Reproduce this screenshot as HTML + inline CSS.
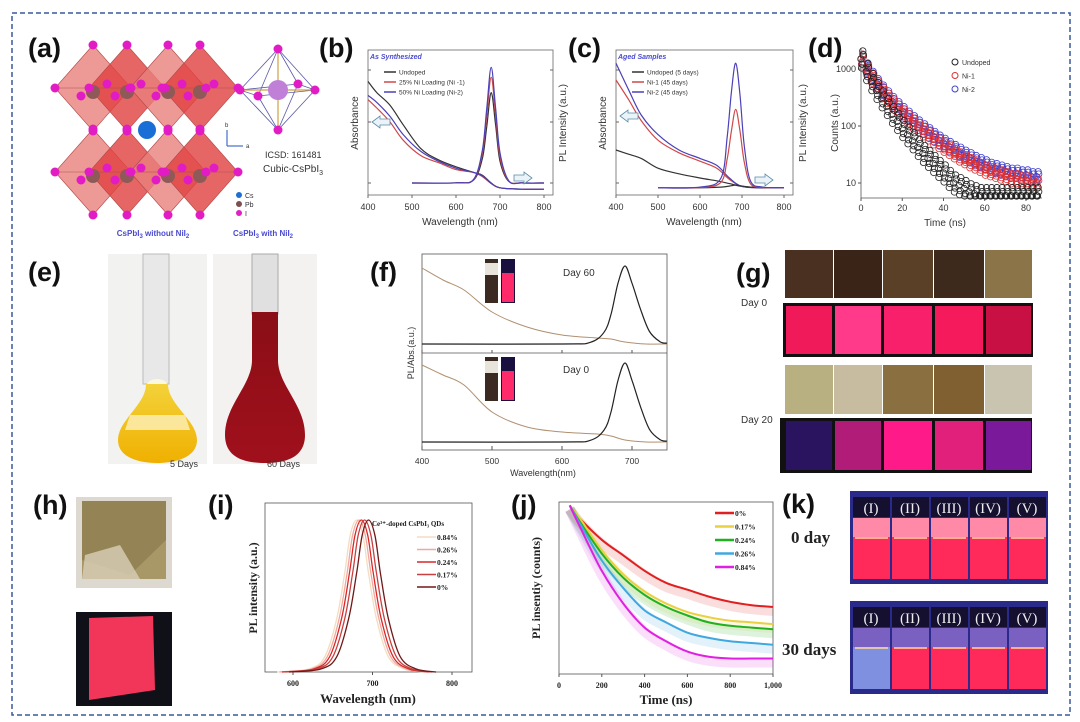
<!DOCTYPE html>
<html><head><meta charset="utf-8">
<style>
html,body{margin:0;padding:0;background:#fff;}
svg{display:block;}
.lbl{font-family:"Liberation Sans",sans-serif;font-weight:bold;font-size:27px;fill:#111;}
.t{font-family:"Liberation Sans",sans-serif;fill:#333;}
.s{font-family:"Liberation Serif",serif;font-weight:bold;fill:#222;}
</style></head>
<body>
<svg id="fig" width="1080" height="722" viewBox="0 0 1080 722" xmlns="http://www.w3.org/2000/svg">
<defs>
<linearGradient id="gy" x1="0" y1="0" x2="0" y2="1"><stop offset="0" stop-color="#f3d23a"/><stop offset="1" stop-color="#f0b000"/></linearGradient>
<linearGradient id="gr" x1="0" y1="0" x2="0" y2="1"><stop offset="0" stop-color="#8a0e16"/><stop offset="1" stop-color="#a0101c"/></linearGradient>
</defs>
<rect x="0" y="0" width="1080" height="722" fill="#fff"/>
<rect x="12" y="13" width="1058" height="702" fill="none" stroke="#3a5a9a" stroke-width="1.5" stroke-dasharray="5,3"/>

<text class="lbl" x="28" y="57">(a)</text>
<text class="lbl" x="319" y="57">(b)</text>
<text class="lbl" x="568" y="57">(c)</text>
<text class="lbl" x="808" y="57">(d)</text>
<text class="lbl" x="28" y="281">(e)</text>
<text class="lbl" x="370" y="281">(f)</text>
<text class="lbl" x="736" y="282">(g)</text>
<text class="lbl" x="33" y="514">(h)</text>
<text class="lbl" x="208" y="514">(i)</text>
<text class="lbl" x="511" y="514">(j)</text>
<text class="lbl" x="782" y="513">(k)</text>

<g id="crystal"></g>
<text class="t" x="265" y="158" font-size="9">ICSD: 161481</text>
<text class="t" x="263" y="172" font-size="10">Cubic-CsPbI<tspan font-size="7" dy="3">3</tspan></text>
<g>
<line x1="227" y1="146" x2="227" y2="130" stroke="#2050c0" stroke-width="1"/><line x1="227" y1="146" x2="243" y2="146" stroke="#2050c0" stroke-width="1"/>
<text class="t" x="225" y="127" font-size="6">b</text><text class="t" x="246" y="148" font-size="6">a</text></g>
<g>
<circle cx="239" cy="195" r="3" fill="#1e6fd0"/><text class="t" x="245" y="198" font-size="7">Cs</text>
<circle cx="239" cy="204" r="3" fill="#7a5050"/><text class="t" x="245" y="207" font-size="7">Pb</text>
<circle cx="239" cy="213" r="3" fill="#e020c0"/><text class="t" x="245" y="216" font-size="7">I</text></g>

<g id="pb"></g>
<g id="pc"></g>
<g id="pd"></g>

<g>
<text x="153" y="236" font-size="8" text-anchor="middle" font-weight="bold" fill="#4a4ad0" font-family="Liberation Sans,sans-serif">CsPbI<tspan font-size="6" dy="2">3</tspan><tspan dy="-2"> without NiI</tspan><tspan font-size="6" dy="2">2</tspan></text>
<text x="263" y="236" font-size="8" text-anchor="middle" font-weight="bold" fill="#4a4ad0" font-family="Liberation Sans,sans-serif">CsPbI<tspan font-size="6" dy="2">3</tspan><tspan dy="-2"> with NiI</tspan><tspan font-size="6" dy="2">2</tspan></text>
<rect x="108" y="254" width="99" height="210" fill="#f2f2f0"/>
<rect x="143" y="254" width="26" height="130" fill="#e8e8e8" stroke="#bbb"/>
<ellipse cx="157" cy="385" rx="10" ry="6" fill="#fbf8e0"/>
<path d="M146,384 C146,405 118,420 118,440 C118,458 140,463 157,463 C174,463 197,458 197,440 C197,420 168,405 168,384 Z" fill="url(#gy)"/>
<path d="M130,415 L185,415 L190,430 L125,430 Z" fill="#fff6d0" opacity="0.7"/>
<rect x="213" y="254" width="104" height="210" fill="#f4f2f0"/>
<rect x="252" y="254" width="26" height="60" fill="#e0e0e0" stroke="#aaa"/>
<path d="M252,312 L278,312 L278,360 C278,385 305,405 305,435 C305,458 285,463 265,463 C245,463 225,458 225,435 C225,405 252,385 252,360 Z" fill="url(#gr)"/>
<text class="t" x="170" y="467" font-size="9">5 Days</text>
<text class="t" x="267" y="467" font-size="9">60 Days</text>
</g>

<g id="pf"></g>

<g id="pg"></g>
<text class="t" x="741" y="306" font-size="10">Day 0</text>
<text class="t" x="741" y="423" font-size="10">Day 20</text>

<g>
<rect x="76" y="497" width="96" height="91" fill="#ddd8d0"/>
<rect x="82" y="501" width="84" height="78" fill="#a89868"/>
<path d="M82,501 L166,501 L166,540 L130,575 L82,560 Z" fill="#8c7a4c" opacity="0.7"/>
<path d="M85,555 L120,545 L140,579 L82,579 Z" fill="#d8d0b8" opacity="0.8"/>
<rect x="76" y="612" width="96" height="94" fill="#101018"/>
<path d="M89,618 L153,616 L155,690 L89,700 Z" fill="#f2365a"/>
</g>

<g id="pi"></g>
<g id="pj"></g>

<g>
<text class="s" x="791" y="543" font-size="17">0 day</text>
<text class="s" x="782" y="655" font-size="17">30 days</text>
<g id="pk"></g>
</g>
</svg>

<script>
const NS='http://www.w3.org/2000/svg';
function el(tag,attrs,parent,text){const e=document.createElementNS(NS,tag);for(const k in attrs)e.setAttribute(k,attrs[k]);if(text!==undefined)e.textContent=text;parent.appendChild(e);return e;}
function smooth(p){if(p.length<2)return '';let d='M'+p[0][0].toFixed(1)+','+p[0][1].toFixed(1);for(let i=0;i<p.length-1;i++){const p0=p[i-1]||p[i],p1=p[i],p2=p[i+1],p3=p[i+2]||p2;const c1=[p1[0]+(p2[0]-p0[0])/6,p1[1]+(p2[1]-p0[1])/6],c2=[p2[0]-(p3[0]-p1[0])/6,p2[1]-(p3[1]-p1[1])/6];d+='C'+c1[0].toFixed(1)+','+c1[1].toFixed(1)+' '+c2[0].toFixed(1)+','+c2[1].toFixed(1)+' '+p2[0].toFixed(1)+','+p2[1].toFixed(1);}return d;}

/* ---------- (a) crystal ---------- */
const octX=[93,127,168,200];
const octRowsY=[88,172];
(function(){const g=document.getElementById('crystal');
octRowsY.forEach((cy,r)=>{octX.forEach((cx,i)=>{
 const poly=el('polygon',{points:`${cx},${cy-43} ${cx+38},${cy} ${cx},${cy+43} ${cx-38},${cy}`,fill:i%2?'#e0403f':'#e8807c','fill-opacity':'0.8',stroke:'#b04848','stroke-width':'0.6'},g);
 
 
 el('line',{x1:cx-38,y1:cy,x2:cx+38,y2:cy,stroke:'#b05050','stroke-width':'0.5'},g);
});});
octRowsY.forEach(cy=>{octX.forEach(cx=>{el('circle',{cx:cx,cy:cy+4,r:7,fill:'#8e5a58'},g);});});
octRowsY.forEach(cy=>{octX.forEach(cx=>{[[cx,cy-43],[cx,cy+43],[cx-38,cy],[cx+38,cy],[cx-12,cy+8],[cx+14,cy-4]].forEach(p=>el('circle',{cx:p[0],cy:p[1],r:4.5,fill:'#e21cc4'},g));});});
const cs=el('circle',{cx:147,cy:130,r:9,fill:'#1a6fd6'},g);


const ni=[[278,49],[278,130],[240,90],[315,90],[258,96],[298,84]];
[[0,2],[0,3],[0,4],[0,5],[1,2],[1,3],[1,4],[1,5],[2,4],[4,3],[3,5],[5,2]].forEach(e=>el('line',{x1:ni[e[0]][0],y1:ni[e[0]][1],x2:ni[e[1]][0],y2:ni[e[1]][1],stroke:'#5a5aa8','stroke-width':'0.8'},g));
el('line',{x1:278,y1:49,x2:278,y2:130,stroke:'#d0a040','stroke-width':'1.2'},g);
el('line',{x1:240,y1:90,x2:315,y2:90,stroke:'#d0a040','stroke-width':'1.2'},g);
el('circle',{cx:278,cy:90,r:10,fill:'#c080d8'},g);
ni.forEach(p=>el('circle',{cx:p[0],cy:p[1],r:4.5,fill:'#e21cc4'},g));
})();

/* ---------- (b) ---------- */
const bAbsWl=[400,420,450,480,520,560,600,640,660,680,700,750,800];
const bAbsUndoped=[0.79,0.71,0.62,0.48,0.31,0.23,0.18,0.14,0.12,0.064,0.03,0.02,0.02];
const bAbsNi1=[0.66,0.60,0.50,0.37,0.26,0.21,0.16,0.14,0.11,0.06,0.03,0.02,0.02];
const bAbsNi2=[0.69,0.64,0.54,0.41,0.29,0.22,0.17,0.14,0.115,0.062,0.03,0.02,0.02];
const bPlWl=[500,600,640,660,670,680,690,700,720,750,800];
const bPlUndoped=[0.064,0.066,0.085,0.24,0.47,0.71,0.48,0.22,0.075,0.065,0.064];
const bPlNi1=[0.064,0.066,0.088,0.28,0.55,0.82,0.55,0.25,0.078,0.065,0.064];
const bPlNi2=[0.064,0.066,0.09,0.30,0.60,0.89,0.60,0.28,0.08,0.065,0.064];
const bTicks=[400,500,600,700,800];
/* ---------- (c) ---------- */
const cAbsWl=[400,430,460,500,550,600,640,670,700,750,800];
const cAbsUndoped=[0.30,0.27,0.24,0.17,0.13,0.10,0.08,0.06,0.04,0.03,0.03];
const cAbsNi1=[0.80,0.66,0.51,0.37,0.28,0.22,0.17,0.09,0.04,0.03,0.03];
const cAbsNi2=[0.92,0.73,0.55,0.41,0.30,0.24,0.19,0.10,0.04,0.03,0.03];
const cPlWl=[500,600,650,665,675,685,695,705,720,750,800];
const cPlUndoped=[0.03,0.03,0.035,0.04,0.045,0.05,0.045,0.04,0.035,0.03,0.03];
const cPlNi1=[0.03,0.032,0.07,0.24,0.44,0.59,0.44,0.22,0.06,0.032,0.03];
const cPlNi2=[0.03,0.035,0.10,0.40,0.72,0.92,0.70,0.34,0.08,0.035,0.03];

function specPanel(gid,x0,x1,absWl,abs,plWl,pl,legend,title,names){
 const g=document.getElementById(gid);
 const X=w=>x0+(w-400)*(x1-x0)/400, Y=v=>192-v*140;
 const ax=el('rect',{x:x0,y:50,width:(x1-x0)+9,height:145,fill:'none',stroke:'#666','stroke-width':'0.8'},g);
 
 
 bTicks.forEach(t=>{el('line',{x1:X(t),y1:195,x2:X(t),y2:198,stroke:'#666'},g);
  const tl=el('text',{x:X(t),y:210,'font-size':9,'text-anchor':'middle',class:'t'},g,String(t));
  
  });
 [70,122,183].forEach(y=>{el('line',{x1:x0,y1:y,x2:x0+3,y2:y,stroke:'#666'},g);el('line',{x1:x1+9,y1:y,x2:x1+6,y2:y,stroke:'#666'},g);});
 const xt=el('text',{x:(x0+x1)/2+4,y:225,'font-size':10,'text-anchor':'middle',class:'t'},g,'Wavelength (nm)');
 
 
 const yt=el('text',{x:0,y:0,'font-size':10,'text-anchor':'middle',class:'t',transform:`translate(${x0-10},123) rotate(-90)`},g,'Absorbance');
 
 
 const yt2=el('text',{x:0,y:0,'font-size':10,'text-anchor':'middle',class:'t',transform:`translate(${x1+22},123) rotate(-90)`},g,'PL Intensity (a.u.)');
 
 
 const tt=el('text',{x:x0+2,y:59,'font-size':7,'font-style':'italic','font-weight':'bold',fill:'#4a4ad0','font-family':'Liberation Sans,sans-serif'},g,title);
 
 
 const cols=['#333','#d04848','#4a40b8'];
 abs.forEach((s,k)=>{const p=el('path',{d:smooth(absWl.map((w,i)=>[X(w),Y(s[i])])),fill:'none',stroke:cols[k],'stroke-width':1.2},g);
  
  });
 pl.forEach((s,k)=>{const p=el('path',{d:smooth(plWl.map((w,i)=>[X(w),Y(s[i])])),fill:'none',stroke:cols[k],'stroke-width':1.2},g);
  
  });
 legend.forEach((t,k)=>{const y=72+k*10;el('line',{x1:x0+16,y1:y,x2:x0+28,y2:y,stroke:cols[k],'stroke-width':1.5},g);
  const lt=el('text',{x:x0+31,y:y+2.5,'font-size':6.5,class:'t'},g,t);
  
  });
 return {g,X,Y};
}
(function(){
 const b=specPanel('pb',368,544,bAbsWl,[bAbsUndoped,bAbsNi1,bAbsNi2],bPlWl,[bPlUndoped,bPlNi1,bPlNi2],['Undoped','25% Ni Loading (Ni -1)','50% Ni Loading (Ni-2)'],'As Synthesized',['undoped','ni1','ni2']);
 el('path',{d:'M372,122 l8,-6 v3 h10 v6 h-10 v3 z',fill:'#eaf4f8',stroke:'#5a8aa8','stroke-width':0.8},b.g);
 el('path',{d:'M514,175 h10 v-3 l8,6 -8,6 v-3 h-10 z',fill:'#eaf4f8',stroke:'#5a8aa8','stroke-width':0.8},b.g);
 const c=specPanel('pc',616,784,cAbsWl,[cAbsUndoped,cAbsNi1,cAbsNi2],cPlWl,[cPlUndoped,cPlNi1,cPlNi2],['Undoped (5 days)','Ni-1 (45 days)','Ni-2 (45 days)'],'Aged Samples',['undoped','ni1','ni2']);
 el('path',{d:'M620,116 l8,-6 v3 h10 v6 h-10 v3 z',fill:'#eaf4f8',stroke:'#5a8aa8','stroke-width':0.8},c.g);
 el('path',{d:'M755,177 h10 v-3 l8,6 -8,6 v-3 h-10 z',fill:'#eaf4f8',stroke:'#5a8aa8','stroke-width':0.8},c.g);
})();

/* ---------- (d) ---------- */
const dTime=[0,2.5,5,7.5,10,12.5,15,17.5,20,22.5,25,27.5,30,32.5,35,37.5,40,42.5,45,47.5,50,52.5,55,57.5,60,62.5,65,67.5,70,72.5,75,77.5,80,82.5,85];
const dUndoped=[1500,900,600,420,300,220,160,120,90,70,55,42,33,27,22,18,15,12,10,9,8,7,6.5,6,6,6,6,6,6,6,6,6,6,6,6];
const dNi1=[1500,1000,700,520,400,310,250,200,165,135,112,95,80,68,58,50,43,38,33,29,26,23,21,19,17,16,15,14,13,12,12,11,11,10,10];
const dNi2=[1500,1050,750,560,430,340,270,220,180,150,125,105,90,77,66,57,50,44,39,35,31,28,25,23,21,19,18,17,16,15,15,14,14,13,13];
const dXTicks=[0,20,40,60,80];
const dYTicks=[10,100,1000];
(function(){const g=document.getElementById('pd');
 const X=t=>861+t*(1026-861)/80, Y=c=>183-(Math.log10(c)-1)*57;
 el('line',{x1:861,y1:48,x2:861,y2:198,stroke:'#555','stroke-width':0.8},g);
 el('line',{x1:861,y1:198,x2:1042,y2:198,stroke:'#555','stroke-width':0.8},g);
 dXTicks.forEach(t=>{el('line',{x1:X(t),y1:198,x2:X(t),y2:201,stroke:'#555'},g);
  const l=el('text',{x:X(t),y:211,'font-size':9,'text-anchor':'middle',class:'t'},g,String(t));
  
  });
 dYTicks.forEach(v=>{el('line',{x1:858,y1:Y(v),x2:861,y2:Y(v),stroke:'#555'},g);
  const l=el('text',{x:856,y:Y(v)+3,'font-size':9,'text-anchor':'end',class:'t'},g,String(v));
  
  });
 const xt=el('text',{x:945,y:226,'font-size':10,'text-anchor':'middle',class:'t'},g,'Time (ns)');
 
 
 const yt=el('text',{x:0,y:0,'font-size':10,'text-anchor':'middle',class:'t',transform:'translate(838,123) rotate(-90)'},g,'Counts (a.u.)');
 
 
 const cols=['#222','#e03030','#4040d0'];
 const spread=[[0,0],[1.2,5],[2.4,-4],[0.6,9],[1.8,-8]];
 [dNi2,dNi1,dUndoped].forEach((s,kk)=>{const k=2-kk;s.forEach((v,i)=>{
  spread.forEach(o=>{
   const ci=el('circle',{cx:X(dTime[i])+o[0],cy:Math.min(196,Y(v)+o[1]*(k==0?1:0.6)),r:3.2,fill:'none',stroke:cols[k],'stroke-width':0.8},g);
   
   });});});
 ['Undoped','Ni-1','Ni-2'].forEach((t,k)=>{const y=62+k*13.5;el('circle',{cx:955,cy:y,r:3,fill:'none',stroke:cols[k]},g);
  const l=el('text',{x:962,y:y+3,'font-size':7,class:'t'},g,t);
  
  });
})();

/* ---------- (f) ---------- */
const fWl=[400,430,460,500,550,600,650,670,690,720,750];
const fAbsDay60=[268,280,290,312,327,335,338,339,342,344,344];
const fAbsDay0=[365,375,385,412,427,432,434,436,440,442,442];
const fPlWl=[400,600,640,660,670,680,690,700,712,725,740,750];
const fPlShape=[0,0,0.02,0.15,0.38,0.78,1,0.78,0.45,0.16,0.03,0.01];
const fTicks=[400,500,600,700];
(function(){const g=document.getElementById('pf');
 const X=w=>422+(w-400)*0.7;
 el('rect',{x:422,y:254,width:245,height:196,fill:'none',stroke:'#555','stroke-width':0.8},g);
 el('line',{x1:422,y1:353,x2:667,y2:353,stroke:'#555','stroke-width':0.8},g);
 fTicks.forEach(t=>{el('line',{x1:X(t),y1:450,x2:X(t),y2:446,stroke:'#555'},g);el('line',{x1:X(t),y1:353,x2:X(t),y2:350,stroke:'#555'},g);
  const l=el('text',{x:X(t),y:464,'font-size':8.5,'text-anchor':'middle',class:'t'},g,String(t));
  
  });
 const xt=el('text',{x:543,y:476,'font-size':9,'text-anchor':'middle',class:'t'},g,'Wavelength(nm)');
 
 
 const yt=el('text',{x:0,y:0,'font-size':9,'text-anchor':'middle',class:'t',transform:'translate(414,353) rotate(-90)'},g,'PL/Abs.(a.u.)');
 
 
 [[fAbsDay60,344,266,'day60'],[fAbsDay0,442,363,'day0']].forEach(([ab,base,peak,nm])=>{
  const a=el('path',{d:smooth(fWl.map((w,i)=>[X(w),ab[i]])),fill:'none',stroke:'#b09070','stroke-width':1},g);
  
  
  const p=el('path',{d:smooth(fPlWl.map((w,i)=>[X(w),base-fPlShape[i]*(base-peak)])),fill:'none',stroke:'#222','stroke-width':1.2},g);
  
  });
 [[259,'Day 60',276],[357,'Day 0',373]].forEach(([vy,t,ty])=>{
  el('rect',{x:485,y:vy,width:13,height:44,fill:'#3a2a22'},g);el('rect',{x:485,y:vy+4,width:13,height:12,fill:'#e8e4dc'},g);
  el('rect',{x:501,y:vy,width:14,height:44,fill:'#1a1040'},g);el('rect',{x:502,y:vy+14,width:12,height:29,fill:'#ff2a6a'},g);
  const l=el('text',{x:563,y:ty,'font-size':10,class:'t'},g,t);
  
  });
})();

/* ---------- (g) ---------- */
(function(){const g=document.getElementById('pg');
 const colX=[785,834,883,934,985];const w=[48,48,50,50,47];
 const brown=['#4a3020','#3a2418','#5a4026','#3e2a1c','#8a7448'];
 const pink=['#f01a5a','#ff3a8a','#f8206a','#f41a5c','#c81044'];
 const tan=['#b8b080','#c8bca0','#8a7040','#806030','#c8c4b0'];
 const dark=['#2a1460','#b01c78','#ff1a8a','#e0207a','#7a1a9a'];
 el('rect',{x:783,y:303,width:250,height:54,fill:'#111'},g);
 el('rect',{x:780,y:418,width:252,height:55,fill:'#111'},g);
 colX.forEach((x,i)=>{
  el('rect',{x:x,y:250,width:w[i],height:48,fill:brown[i]},g);
  const p=el('rect',{x:x+1,y:306,width:w[i]-2,height:48,fill:pink[i]},g);
  
  
  el('rect',{x:x,y:365,width:w[i],height:49,fill:tan[i]},g);
  const q=el('rect',{x:x+1,y:421,width:w[i]-2,height:49,fill:dark[i]},g);
  
  });
})();

/* ---------- (i) ---------- */
const iLabels=['0.84%','0.26%','0.24%','0.17%','0%'];
const iPeakWl=[680,683,686,690,695];
const iOffsets=[-100,-60,-40,-25,-15,-8,0,8,15,25,40,60,85];
const iShape=[0,0.02,0.1,0.35,0.65,0.9,1,0.9,0.65,0.35,0.1,0.02,0];
const iColors=['#f5dcc0','#f0a8a0','#d82828','#c84040','#701818'];
const iTicks=[600,700,800];
(function(){const g=document.getElementById('pi');
 const X=w=>293+(w-600)*0.795, Y=v=>672-v*152;
 el('rect',{x:265,y:503,width:207,height:169,fill:'none',stroke:'#555','stroke-width':0.8},g);
 iTicks.forEach(t=>{el('line',{x1:X(t),y1:672,x2:X(t),y2:675,stroke:'#555'},g);
  const l=el('text',{x:X(t),y:686,'font-size':8,'text-anchor':'middle',class:'s'},g,String(t));
  
  });
 const xt=el('text',{x:368,y:703,'font-size':13,'text-anchor':'middle',class:'s'},g,'Wavelength (nm)');
 
 
 const yt=el('text',{x:0,y:0,'font-size':12,'text-anchor':'middle',class:'s',transform:'translate(257,588) rotate(-90)'},g,'PL intensity (a.u.)');
 
 
 iPeakWl.forEach((pk,k)=>{const p=el('path',{d:smooth(iOffsets.map((o,i)=>[X(pk+o),Y(iShape[i])])),fill:'none',stroke:iColors[k],'stroke-width':1.3},g);
  
  });
 const tt=el('text',{x:372,y:526,'font-size':7,class:'s'},g,'Ce³⁺-doped CsPbI₃ QDs');
 
 
 iLabels.forEach((t,k)=>{const y=537+k*12.5;el('line',{x1:417,y1:y,x2:436,y2:y,stroke:iColors[k],'stroke-width':1.5},g);
  const l=el('text',{x:437,y:y+3,'font-size':7.5,class:'s'},g,t);
  
  });
})();

/* ---------- (j) ---------- */
const jLabels=['0%','0.17%','0.24%','0.26%','0.84%'];
const jTime=[50,100,200,300,400,500,600,700,800,900,1000];
const jRed=[0.98,0.9,0.78,0.69,0.6,0.53,0.49,0.45,0.42,0.4,0.39];
const jYellow=[0.98,0.9,0.72,0.58,0.48,0.41,0.36,0.33,0.31,0.3,0.29];
const jGreen=[0.98,0.88,0.7,0.56,0.46,0.39,0.34,0.3,0.28,0.27,0.26];
const jBlue=[0.98,0.87,0.66,0.5,0.37,0.3,0.24,0.21,0.19,0.18,0.17];
const jMagenta=[0.98,0.85,0.6,0.41,0.27,0.19,0.13,0.1,0.09,0.09,0.09];
const jTicks=[0,200,400,600,800,1000];
const jTickLabels=['0','200','400','600','800','1,000'];
(function(){const g=document.getElementById('pj');
 const X=t=>559+t*0.214, Y=v=>674-v*172;
 el('rect',{x:559,y:502,width:214,height:172,fill:'none',stroke:'#555','stroke-width':0.8},g);
 jTicks.forEach((t,i)=>{el('line',{x1:X(t),y1:674,x2:X(t),y2:677,stroke:'#555'},g);
  const l=el('text',{x:X(t),y:688,'font-size':8,'text-anchor':'middle',class:'s'},g,jTickLabels[i]);
  
  });
 const xt=el('text',{x:666,y:704,'font-size':13,'text-anchor':'middle',class:'s'},g,'Time (ns)');
 
 
 const yt=el('text',{x:0,y:0,'font-size':12,'text-anchor':'middle',class:'s',transform:'translate(540,588) rotate(-90)'},g,'PL insentiy (counts)');
 
 
 const cols=['#e02020','#e8d040','#20b020','#40a8e0','#e020e0'];
 const series=[jRed,jYellow,jGreen,jBlue,jMagenta];
 series.forEach((s,k)=>{const band=el('path',{d:smooth(jTime.map((t,i)=>[X(t),Y(s[i])+4])),fill:'none',stroke:cols[k],'stroke-width':10,'stroke-opacity':0.15},g);
  
  });
 series.forEach((s,k)=>{const p=el('path',{d:smooth(jTime.map((t,i)=>[X(t),Y(s[i])])),fill:'none',stroke:cols[k],'stroke-width':2},g);
  
  });
 jLabels.forEach((t,k)=>{const y=513+k*13.5;el('line',{x1:715,y1:y,x2:734,y2:y,stroke:cols[k],'stroke-width':2.5},g);
  const l=el('text',{x:735,y:y+3,'font-size':7.5,class:'s'},g,t);
  
  });
})();

/* ---------- (k) ---------- */
(function(){const g=document.getElementById('pk');
 const roman=['(I)','(II)','(III)','(IV)','(V)'];
 const vx=[853,892,931,970,1009];
 [[491,false],[601,true]].forEach(([y,aged])=>{
  el('rect',{x:850,y:y,width:198,height:93,fill:'#2a2a8a'},g);
  vx.forEach((x,i)=>{
   const liquid=(aged&&i==0)?'#8090e0':'#ff2a5a';
   el('rect',{x:x,y:y+6,width:37,height:20,fill:'#151030'},g);
   const t=el('text',{x:x+18,y:y+22,'font-size':15,'text-anchor':'middle',fill:'#eee','font-family':'Liberation Serif,serif'},g,roman[i]);
   
   
   el('rect',{x:x,y:y+27,width:37,height:20,fill:aged?'#7a60c0':'#ff8aa8'},g);
   const v=el('rect',{x:x,y:y+46,width:37,height:42,fill:liquid},g);
   
   
   el('line',{x1:x+2,y1:y+47,x2:x+35,y2:y+47,stroke:'#ffd8a0','stroke-width':1.5},g);});
 });
})();
</script>
</body></html>
